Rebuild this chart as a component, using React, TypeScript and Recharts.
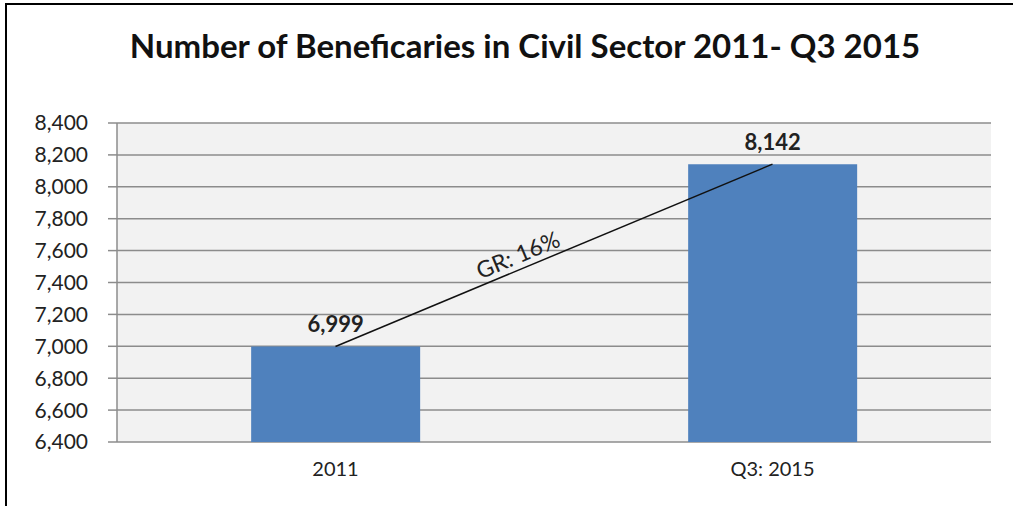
import { ComposedChart, Bar, Line, XAxis, YAxis, CartesianGrid, LabelList } from 'recharts'

const categories = ['2011', 'Q3: 2015']
const beneficiaries = [6999, 8142]
const yTicks = [6400, 6600, 6800, 7000, 7200, 7400, 7600, 7800, 8000, 8200, 8400]
const growthLabel = 'GR: 16%'

const data = categories.map((name, i) => ({ name, value: beneficiaries[i] }))

const FONT = 'Lato, "Open Sans", sans-serif'

// draws the growth annotation along the trend line, using the line's own points
function GrowthDot(props: any) {
  const { index, points, cx, cy } = props
  if (index !== 0 || !points || points.length < 2) return <g key={`d${index}`} />
  const p0 = points[0]
  const p1 = points[1]
  const dx = p1.x - p0.x
  const dy = p1.y - p0.y
  const len = Math.sqrt(dx * dx + dy * dy)
  const angle = (Math.atan2(dy, dx) * 180) / Math.PI
  const t = 0.43
  const nx = dy / len
  const ny = -dx / len
  const x = cx + dx * t + nx * 15
  const y = cy + dy * t + ny * 15
  return (
    <text
      key="gr"
      x={x}
      y={y}
      transform={`rotate(${angle} ${x} ${y})`}
      textAnchor="middle"
      dominantBaseline="central"
      fontFamily={FONT}
      fontSize={23}
      fill="#222"
    >
      {growthLabel}
    </text>
  )
}

export default function App() {
  return (
    <div style={{ position: 'fixed', left: 0, top: 0, width: 1013, height: 506, background: '#fff', overflow: 'hidden' }}>
      <div
        style={{
          position: 'absolute',
          left: 5,
          top: 3,
          width: 1100,
          height: 600,
          borderLeft: '2px solid #000',
          borderTop: '2px solid #000',
        }}
      />
      <div
        style={{
          position: 'absolute',
          left: 0,
          top: 25,
          width: 1050,
          textAlign: 'center',
          fontFamily: FONT,
          fontWeight: 700,
          fontSize: 33,
          color: '#111',
        }}
      >
        Number of Beneficaries in Civil Sector 2011- Q3 2015
      </div>
      <div style={{ position: 'absolute', left: 0, top: 0 }}>
        <ComposedChart
          width={1013}
          height={506}
          data={data}
          barCategoryGap="30.7%"
          margin={{ top: 123, right: 22, bottom: 34, left: 57 }}
        >
          <CartesianGrid vertical={false} stroke="#8c8c8c" strokeWidth={1.5} fill="#f2f2f2" />
          <XAxis
            xAxisId="edges"
            type="number"
            domain={[0, 2]}
            ticks={[0, 1, 2]}
            tick={false}
            height={0}
            stroke="#8c8c8c"
            strokeWidth={1.5}
            tickSize={6}
          />
          <XAxis
            xAxisId="cat"
            dataKey="name"
            height={30}
            axisLine={false}
            tickLine={false}
            tickMargin={14}
            tick={{ fontFamily: FONT, fontSize: 20, fill: '#222' }}
          />
          <YAxis
            domain={[6400, 8400]}
            ticks={yTicks}
            width={60}
            stroke="#8c8c8c"
            strokeWidth={1.5}
            tickSize={9}
            tickMargin={20}
            tickFormatter={(v: number) => v.toLocaleString('en-US')}
            tick={{ fontFamily: FONT, fontSize: 21, fill: '#222' }}
            allowDataOverflow
          />
          <Bar xAxisId="cat" dataKey="value" fill="#4f81bd" isAnimationActive={false}>
            <LabelList
              dataKey="value"
              position="top"
              offset={14}
              formatter={(v: any) => Number(v).toLocaleString('en-US')}
              style={{ fontFamily: FONT, fontSize: 22, fontWeight: 700, fill: '#222' }}
            />
          </Bar>
          <Line
            xAxisId="cat"
            dataKey="value"
            stroke="#111"
            strokeWidth={1.5}
            dot={GrowthDot}
            activeDot={false}
            isAnimationActive={false}
          />
        </ComposedChart>
      </div>
    </div>
  )
}
